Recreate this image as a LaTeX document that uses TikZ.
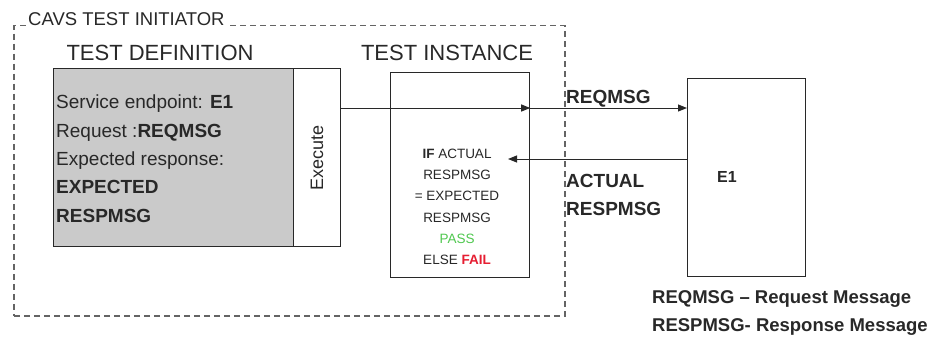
\documentclass[tikz,border=0pt]{standalone}
\usepackage{fontspec}
\setmainfont{Liberation Sans}
\usetikzlibrary{arrows.meta}
\definecolor{ink}{RGB}{40,40,40}
\definecolor{boxgray}{RGB}{202,202,202}
\definecolor{passgreen}{RGB}{80,200,80}
\definecolor{failred}{RGB}{230,30,50}
\definecolor{dashgray}{RGB}{100,100,100}
\begin{document}
\begin{tikzpicture}[x=1pt,y=-1pt,
  box/.style={draw=ink, line width=1.2pt, anchor=north west, inner sep=0pt},
  arr/.style={draw=ink, line width=1pt, -{Triangle[length=9pt,width=7pt]}},
  lbl/.style={text=ink, inner sep=0pt},
  title/.style={lbl, font=\fontsize{22}{24}\selectfont, anchor=center},
  deftxt/.style={lbl, font=\fontsize{19}{21}\selectfont, anchor=base west},
  insttxt/.style={lbl, font=\fontsize{13.5}{15}\selectfont, anchor=base},
  msgtxt/.style={lbl, font=\bfseries\fontsize{19}{21}\selectfont, anchor=base west},
  legtxt/.style={lbl, font=\bfseries\fontsize{18.5}{21}\selectfont, anchor=base west}]
\useasboundingbox (0,0) rectangle (949,337);
% outer dashed frame
\node[draw=dashgray, line width=1.5pt, dash pattern=on 6pt off 4pt, anchor=north west,
      inner sep=0pt, minimum width=551pt, minimum height=290pt] (outer) at (13,25) {};
\node[lbl, fill=white, anchor=base west, inner xsep=1pt, inner ysep=1pt,
      font=\fontsize{18.5}{20}\selectfont] (outerlbl) at (27,26) {CAVS TEST INITIATOR};
% titles
\node[title] (deftitle) at (160,53) {TEST DEFINITION};
\node[title] (insttitle) at (447,53) {TEST INSTANCE};
% boxes
\node[box, fill=boxgray, minimum width=240pt, minimum height=178pt] (def) at (53,68) {};
\node[box, fill=white, minimum width=47pt, minimum height=178pt] (exec) at (293,68) {};
\node[box, fill=white, minimum width=139pt, minimum height=205pt] (inst) at (390,72) {};
\node[box, fill=white, minimum width=118pt, minimum height=198pt] (e1) at (687,78) {};
% definition text
\node[deftxt] (d1) at (56,108) {Service endpoint: \textbf{E1}};
\node[deftxt] (d2) at (56,137) {Request :\textbf{REQMSG}};
\node[deftxt] (d3) at (56,165) {Expected response:};
\node[deftxt] (d4) at (56,193) {\textbf{EXPECTED}};
\node[deftxt] (d5) at (56,222) {\textbf{RESPMSG}};
% execute
\node[lbl, rotate=90, font=\fontsize{18}{20}\selectfont] (exectxt) at (exec.center) {Execute};
% instance text
\node[insttxt] (i1) at (457,158) {\textbf{IF} ACTUAL};
\node[insttxt] (i2) at (457,179) {RESPMSG};
\node[insttxt] (i3) at (457,200) {= EXPECTED};
\node[insttxt] (i4) at (457,222) {RESPMSG};
\node[insttxt, text=passgreen] (i5) at (457,243) {PASS};
\node[insttxt] (i6) at (457,264) {ELSE \textcolor{failred}{\textbf{FAIL}}};
% E1 label
\node[lbl, font=\bfseries\fontsize{16}{18}\selectfont] (e1lbl) at (727,177) {E1};
% arrows
\coordinate (r1) at (0,108);
\coordinate (r2) at (0,159);
\coordinate (r2end) at (508,159);
\draw[arr] (exec.east |- r1) -- (inst.east |- r1);
\draw[arr] (inst.east |- r1) -- (e1.west |- r1);
\draw[arr] (e1.west |- r2) -- (r2end);
% message labels
\node[msgtxt] (m1) at (566,103) {REQMSG};
\node[msgtxt] (m2) at (566,187) {ACTUAL};
\node[msgtxt] (m3) at (566,215) {RESPMSG};
% legend
\node[legtxt] (l1) at (652,303) {REQMSG -- Request Message};
\node[legtxt] (l2) at (652,331) {RESPMSG- Response Message};
\end{tikzpicture}
\end{document}
